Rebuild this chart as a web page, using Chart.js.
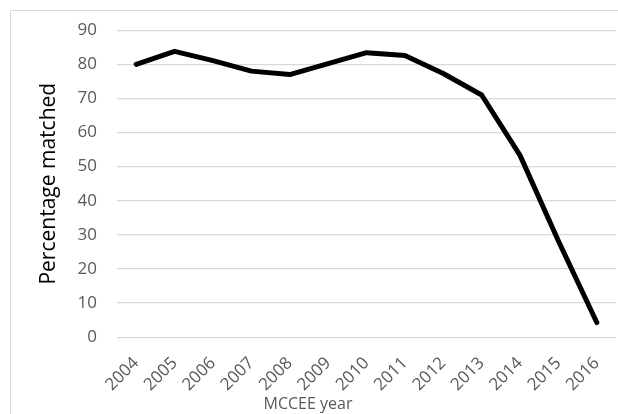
<!DOCTYPE html>
<html>
<head>
<meta charset="utf-8">
<script src="https://cdn.jsdelivr.net/npm/chart.js@4"></script>
<style>
  html, body { margin: 0; padding: 0; background: #fff; }
  #wrap { position: relative; width: 618px; height: 414px; overflow: hidden; }
  #frame { position: absolute; left: 10px; top: 10px; width: 640px; height: 440px; border: 1px solid #d9d9d9; box-sizing: border-box; }
  #c { position: absolute; left: 0; top: 0; }
</style>
</head>
<body>
<div id="wrap">
  <div id="frame"></div>
  <canvas id="c" width="618" height="414"></canvas>
</div>
<script>
const years = ["2004","2005","2006","2007","2008","2009","2010","2011","2012","2013","2014","2015","2016"];
const percentMatched = [80, 83.8, 81.1, 78, 77, 80.2, 83.4, 82.6, 77.3, 71, 53.3, 28.2, 4.3];
const yTitle = "Percentage matched";
const xTitle = "MCCEE year";
const yMin = 0, yMax = 90, yStep = 10;

const FONT = "'Open Sans', 'DejaVu Sans', sans-serif";

new Chart(document.getElementById('c'), {
  type: 'line',
  data: {
    labels: years,
    datasets: [{
      data: percentMatched,
      borderColor: '#000000',
      borderWidth: 5,
      pointRadius: 0,
      pointHoverRadius: 0,
      tension: 0,
      fill: false,
      borderJoinStyle: 'round',
      borderCapStyle: 'round'
    }]
  },
  options: {
    responsive: false,
    animation: false,
    devicePixelRatio: 1,
    layout: { padding: { left: 0, right: 2, top: 25, bottom: 0 } },
    plugins: {
      legend: { display: false },
      tooltip: { enabled: false },
      title: {
        display: true,
        text: xTitle,
        position: 'bottom',
        color: '#595959',
        font: { family: FONT, size: 16, weight: 'normal' },
        padding: { top: 0, bottom: 0 }
      }
    },
    scales: {
      x: {
        offset: true,
        grid: { display: false, drawTicks: false },
        border: { display: false },
        ticks: {
          color: '#595959',
          font: { family: FONT, size: 17 },
          minRotation: 45,
          maxRotation: 45,
          padding: 16,
          autoSkip: false
        },
        afterFit: (s) => { s.height = 57.6; s.paddingRight = 0; s.paddingLeft = 0; }
      },
      y: {
        min: yMin,
        max: yMax,
        grid: { color: '#d9d9d9', lineWidth: 1.3, drawTicks: false },
        border: { display: false },
        ticks: {
          stepSize: yStep,
          color: '#595959',
          font: { family: FONT, size: 17 },
          padding: 20
        },
        title: {
          display: true,
          text: yTitle,
          color: '#000000',
          font: { family: FONT, size: 21, weight: 'normal' },
          padding: { top: 36, bottom: 0 }
        },
        afterFit: (s) => { s.width = 117; }
      }
    }
  }
});
</script>
</body>
</html>
